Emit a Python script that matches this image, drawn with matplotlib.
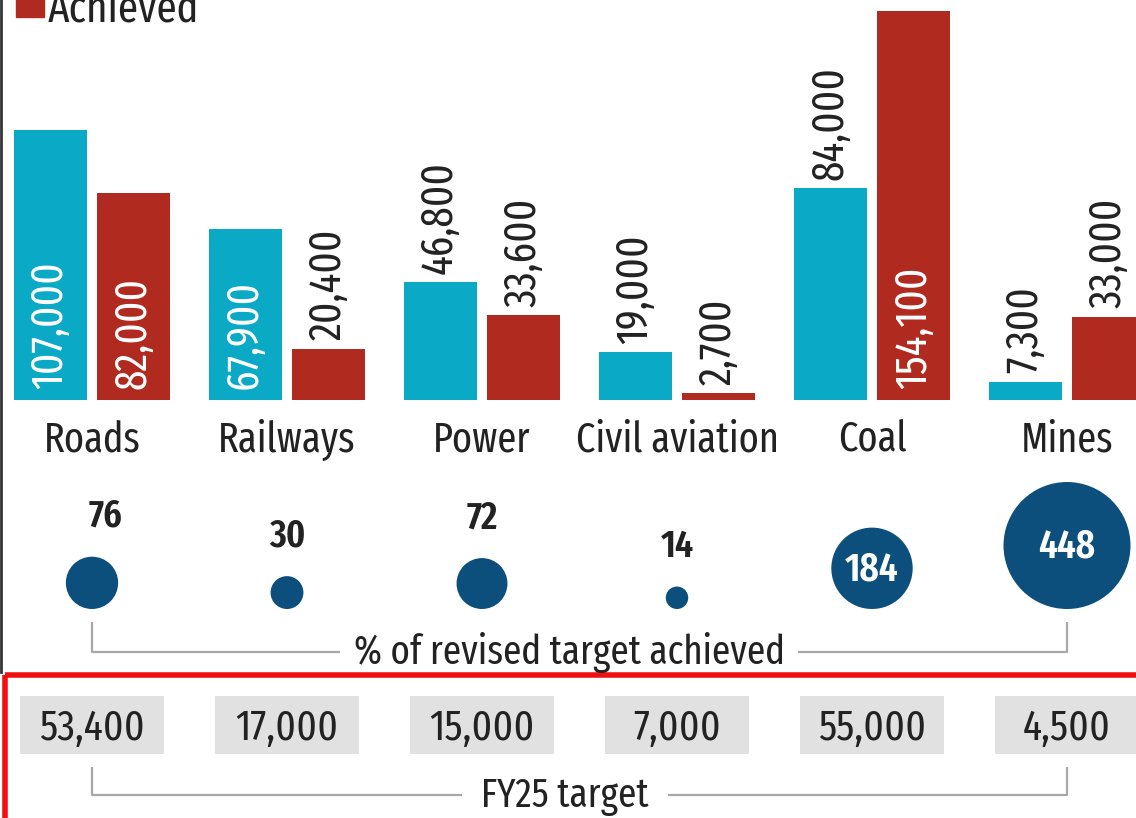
import matplotlib
matplotlib.use("Agg")
import matplotlib.pyplot as plt
from matplotlib.patches import Rectangle
import numpy as np

# data
categories = ["Roads", "Railways", "Power", "Civil aviation", "Coal", "Mines"]
target = [107000, 67900, 46800, 19000, 84000, 7300]
achieved = [82000, 20400, 33600, 2700, 154100, 33000]
pct_achieved = [76, 30, 72, 14, 184, 448]
fy25_target = [53400, 17000, 15000, 7000, 55000, 4500]

# styling
inside_target = [True, True, False, False, False, False]
inside_achieved = [True, False, False, False, True, False]
inside_bubble = [False, False, False, False, True, True]
BLUE = "#0aa9c6"
RED = "#b02a20"
NAVY = "#0c4f7d"
GREY = "#e1e1e1"
TXT = "#222222"
LINE = "#a8a8a8"

plt.rcParams["font.family"] = ["Fira Sans Extra Condensed", "Roboto Condensed", "DejaVu Sans"]

W, H = 1136, 818
fig = plt.figure(figsize=(W / 100, H / 100), dpi=100)

x = np.arange(len(categories))
x0, unit = 92, 195          # px of first group centre, px per group
xlim = (-x0 / unit, (W - x0) / unit)

# bar panel
base_px = 400
px_per_val = 270 / 107000
axb = fig.add_axes([0, 1 - base_px / H, 1, base_px / H])
axb.set_xlim(*xlim)
axb.set_ylim(0, base_px / px_per_val)
axb.axis("off")
off, bw = 0.215, 0.375
axb.bar(x - off, target, bw, color=BLUE)
axb.bar(x + off, achieved, bw, color=RED)

def lab(xx, v, inside):
    s = f"{v:,}"
    if inside:
        axb.annotate(s, (xx, 0), xytext=(0, 8), textcoords="offset points",
                     rotation=90, ha="center", va="bottom", color="white", fontsize=32)
    else:
        axb.annotate(s, (xx, v), xytext=(0, 6), textcoords="offset points",
                     rotation=90, ha="center", va="bottom", color=TXT, fontsize=32)

for i in range(len(categories)):
    lab(x[i] - off, target[i], inside_target[i])
    lab(x[i] + off, achieved[i], inside_achieved[i])

# overlay in pixel rows
ax = fig.add_axes([0, 0, 1, 1])
ax.set_xlim(*xlim)
ax.set_ylim(H, 0)
ax.axis("off")

for i, c in enumerate(categories):
    ax.text(x[i], 452, c, ha="center", va="baseline", fontsize=30, color=TXT)

# legend remnant at the top
ax.add_patch(Rectangle((-x0 / unit + 16 / unit, -5), 28 / unit, 22, color=RED, clip_on=False))
ax.text(-x0 / unit + 48 / unit, 21, "Achieved", ha="left", va="baseline", fontsize=32, color=TXT)

# bubbles, area proportional to value, bottoms aligned
pct = np.array(pct_achieved)
r_px = 3.0 * np.sqrt(pct)
cy = 609 - r_px
ax.scatter(x, cy, s=(2 * r_px * 0.72) ** 2, color=NAVY, zorder=3, linewidths=0)
for i, v in enumerate(pct_achieved):
    if inside_bubble[i]:
        ax.text(x[i], cy[i] + 1, str(v), ha="center", va="center", color="white",
                fontsize=29, fontweight="semibold", zorder=4)
    else:
        ax.text(x[i] + (0.07 if i == 0 else 0), cy[i] - r_px[i] - 40, str(v),
                ha="center", va="center", color=TXT, fontsize=28, fontweight="semibold")

def bracket(ytop, ybot, label, gap_l, gap_r):
    kw = dict(color=LINE, lw=1.6, solid_capstyle="butt")
    ax.plot([x[0], x[0], gap_l], [ytop, ybot, ybot], **kw)
    ax.plot([gap_r, x[-1], x[-1]], [ybot, ybot, ytop], **kw)
    ax.text((gap_l + gap_r) / 2, ybot + 12, label, ha="center", va="baseline",
            fontsize=29, color=TXT)

bracket(622, 652, "% of revised target achieved", (340 - x0) / unit, (798 - x0) / unit)

# FY25 target boxes
for i, v in enumerate(fy25_target):
    ax.add_patch(Rectangle((x[i] - 0.37, 696), 0.74, 58, color=GREY, lw=0))
    ax.text(x[i], 740, f"{v:,}", ha="center", va="baseline", fontsize=31, color=TXT)

bracket(767, 795, "FY25 target", (462 - x0) / unit, (668 - x0) / unit)

# screenshot frame bits
ax.plot([xlim[0] + 1 / unit] * 2, [0, 672], color="#333333", lw=2)
ax.add_patch(Rectangle((xlim[0] + 5 / unit, 675), (W + 20) / unit, 200, fill=False,
                       edgecolor="#f01010", lw=4, clip_on=False))

fig.savefig("out.png", dpi=100)
